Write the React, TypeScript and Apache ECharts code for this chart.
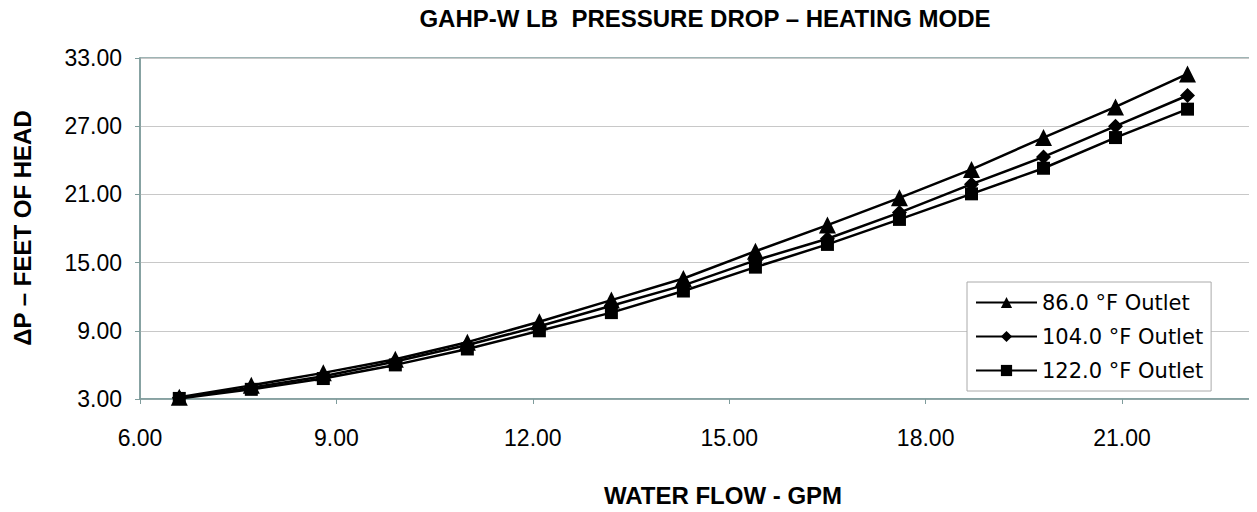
import React, { useEffect, useRef } from "react";
import * as echarts from "echarts";

const flowGpm = [6.6, 7.7, 8.8, 9.9, 11.0, 12.1, 13.2, 14.3, 15.4, 16.5, 17.6, 18.7, 19.8, 20.9, 22.0];
const outlet86 = [3.15, 4.2, 5.3, 6.5, 8.0, 9.8, 11.7, 13.6, 16.0, 18.3, 20.7, 23.2, 26.0, 28.7, 31.6];
const outlet104 = [3.1, 4.0, 5.0, 6.3, 7.75, 9.4, 11.2, 13.0, 15.2, 17.1, 19.4, 21.9, 24.3, 27.0, 29.7];
const outlet122 = [3.05, 3.85, 4.8, 6.0, 7.4, 9.0, 10.6, 12.5, 14.6, 16.6, 18.8, 21.05, 23.3, 26.0, 28.5];
const seriesNames = ["86.0 °F Outlet", "104.0 °F Outlet", "122.0 °F Outlet"];
const titleText = "GAHP-W LB  PRESSURE DROP – HEATING MODE";
const xName = "WATER FLOW - GPM";
const yName = "ΔP – FEET OF HEAD";

const FONT = "'Liberation Sans', Arial, sans-serif";

export default function App() {
  const ref = useRef<HTMLDivElement>(null);
  useEffect(() => {
    if (!ref.current) return;
    const chart = echarts.init(ref.current, null, { renderer: "svg" });
    const mk = (name: string, vals: number[], symbol: string, size: number) => ({
      name,
      type: "line",
      data: flowGpm.map((x, i) => [x, vals[i]]),
      symbol,
      symbolSize: size,
      showSymbol: true,
      lineStyle: { color: "#000", width: 2.5 },
      itemStyle: { color: "#000" },
    });
    chart.setOption({
      animation: false,
      backgroundColor: "#fff",
      grid: {
        left: 140,
        right: 4,
        top: 58,
        bottom: 113,
        show: true,
        borderColor: "#7f9c9c",
        borderWidth: 1.5,
        backgroundColor: "transparent",
      },
      graphic: [
        {
          type: "text",
          x: 705,
          y: 18,
          style: {
            text: titleText,
            font: `bold 24px ${FONT}`,
            fill: "#000",
            textAlign: "center",
            textVerticalAlign: "middle",
          },
        },
        {
          type: "text",
          x: 723,
          y: 495,
          style: {
            text: xName,
            font: `bold 24px ${FONT}`,
            fill: "#000",
            textAlign: "center",
            textVerticalAlign: "middle",
          },
        },
        {
          type: "text",
          x: 22,
          y: 228,
          rotation: Math.PI / 2,
          style: {
            text: yName,
            font: `bold 24px ${FONT}`,
            fill: "#000",
            textAlign: "center",
            textVerticalAlign: "middle",
          },
        },
      ],
      legend: {
        orient: "vertical",
        left: 967,
        top: 282,
        width: 242,
        backgroundColor: "#fff",
        borderColor: "#aaaaaa",
        borderWidth: 1,
        padding: [10, 8, 10, 8],
        itemWidth: 61,
        itemHeight: 14,
        itemGap: 13,
        textStyle: { fontFamily: "'DejaVu Sans', Verdana, sans-serif", fontSize: 21, color: "#000" },
        data: seriesNames,
      },
      xAxis: {
        type: "value",
        min: 6,
        max: 23,
        interval: 3,
        axisLine: { show: true, lineStyle: { color: "#7f9c9c", width: 1.5 } },
        axisTick: { show: true, length: 5, lineStyle: { color: "#7f9c9c" } },
        splitLine: { show: false },
        axisLabel: {
          margin: 27,
          fontFamily: FONT,
          fontSize: 23,
          color: "#000",
          showMaxLabel: false,
          formatter: (v: number) => v.toFixed(2),
        },
      },
      yAxis: {
        type: "value",
        min: 3,
        max: 33,
        interval: 6,
        axisLine: { show: true, lineStyle: { color: "#7f9c9c", width: 1.5 } },
        axisTick: { show: true, length: 5, lineStyle: { color: "#7f9c9c" } },
        splitLine: { show: true, lineStyle: { color: "#c8c8c8", width: 1 } },
        axisLabel: {
          margin: 18,
          fontFamily: FONT,
          fontSize: 23,
          color: "#000",
          formatter: (v: number) => v.toFixed(2),
        },
      },
      series: [
        mk(seriesNames[0], outlet86, "triangle", 17),
        mk(seriesNames[1], outlet104, "diamond", 15),
        mk(seriesNames[2], outlet122, "rect", 13),
      ],
    });
    return () => chart.dispose();
  }, []);
  return <div ref={ref} style={{ width: 1257, height: 512, margin: -8 }} />;
}
